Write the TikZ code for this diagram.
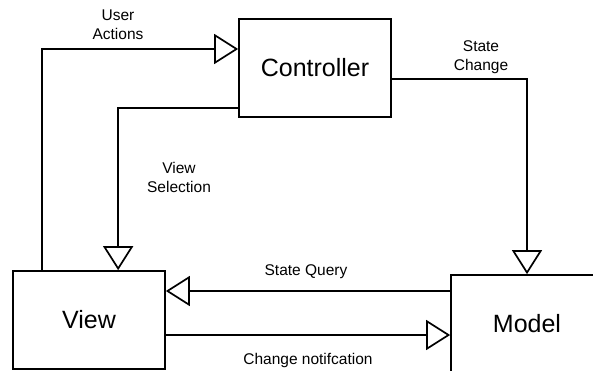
\documentclass[tikz,border=0pt]{standalone}
\usepackage{fontspec}
\setmainfont{Liberation Sans}
\usetikzlibrary{arrows.meta}

\tikzset{
  block/.style={draw, line width=1.7pt, minimum width=152pt, minimum height=98pt,
                inner sep=0pt, font=\fontsize{25}{30}\selectfont},
  link/.style={line width=1.7pt, line join=miter},
  opentip/.style={link, -{Triangle[open, length=24pt, width=30pt, fill=white]}},
  lbl/.style={align=center, inner sep=0pt, font=\fontsize{15.5}{18.6}\selectfont}
}

\begin{document}
\begin{tikzpicture}[x=1pt, y=-1pt]
  \useasboundingbox (0,0) rectangle (593,371);
  \clip (0,0) rectangle (593,371);

  % the three MVC parts
  \node[block] (ctrl)  at (315,68)  {Controller};
  \node[block] (view)  at (89,320)  {View};
  \node[block] (model) at (527,324) {Model};

  % connectors
  \draw[opentip] ([xshift=30pt]view.north west) |- ([yshift=19pt]ctrl.west);
  \draw[opentip] ([yshift=-40pt]ctrl.west) -| ([xshift=106pt]view.north west);
  \draw[opentip] ([yshift=-11pt]ctrl.east) -| (model.north);
  \draw[opentip] ([yshift=33pt]model.west) -- ([yshift=33pt]model.west -| view.east);
  \draw[opentip] ([yshift=-15pt]view.east) -- ([yshift=-15pt]view.east -| model.west);

  % connector labels
  \node[lbl] (lua) at (118,24.5) {User\\Actions};
  \node[lbl] (lvs) at (179,177.5) {View\\Selection};
  \node[lbl] (lsc) at (481,57) {State\\Change};
  \node[lbl, anchor=base] (lsq) at (306,275) {State Query};
  \node[lbl, anchor=base] (lcn) at (308,364) {Change notifcation};
\end{tikzpicture}
\end{document}
